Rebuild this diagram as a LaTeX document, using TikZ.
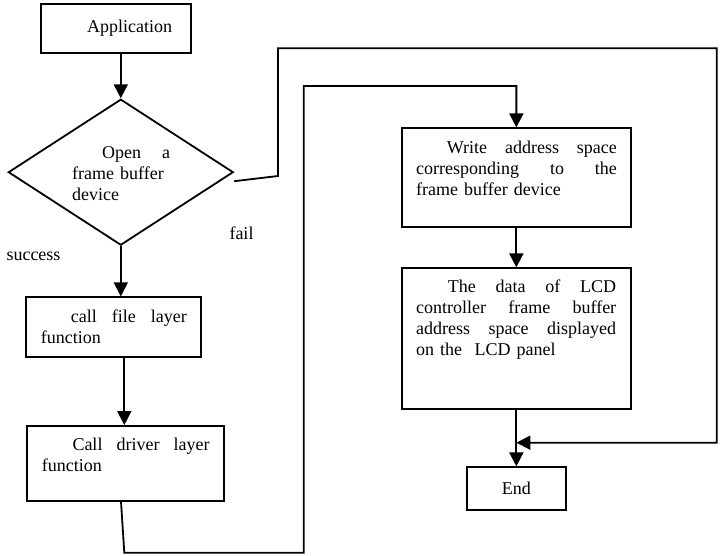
\documentclass[tikz,border=0pt]{standalone}
\usepackage{fontspec}
\setmainfont{Liberation Serif}
\usetikzlibrary{arrows.meta,shapes.geometric}
\newcommand{\lbl}{\fontsize{18}{21}\selectfont}
\newcommand{\jl}[2]{\leavevmode\hbox to #1{#2}}
\begin{document}
\begin{tikzpicture}[x=1pt,y=-1pt,
  box/.style={draw, line width=1.8pt, inner sep=0pt, font=\lbl},
  decision/.style={draw, diamond, line width=1.8pt, inner sep=0pt},
  txt/.style={inner sep=0pt, anchor=base west, align=left, font=\lbl},
  lab/.style={inner sep=0pt, font=\lbl},
  conn/.style={line width=1.8pt},
  arr/.style={conn, -{Triangle[width=14pt,length=14pt]}}]
\useasboundingbox (0,0) rectangle (720,556);

% boxes
\node[box, minimum width=150pt, minimum height=48.4pt] (app) at (115.7,28.5) {\hspace*{28pt}Application};
\node[decision, minimum width=225pt, minimum height=146pt] (dia) at (120.8,172.2) {};
\node[txt, text width=98pt] (diat) at (72,158.5) {\hspace*{30pt}\jl{68pt}{Open\hfill a}\\frame buffer\\device};
\node[box, minimum width=175.3pt, minimum height=59.4pt] (file) at (113.65,327) {};
\node[txt, text width=146pt] (filet) at (40.7,322.2) {\hspace*{30pt}\jl{116pt}{call\hfill file\hfill layer}\\function};
\node[box, minimum width=196.7pt, minimum height=74.7pt] (driver) at (125.65,463.35) {};
\node[txt, text width=167.6pt] (drivert) at (41.7,450.5) {\hspace*{30.6pt}\jl{137pt}{Call\hfill driver\hfill layer}\\function};
\node[box, minimum width=229.3pt, minimum height=99pt] (write) at (516.35,177.8) {};
\node[txt, text width=200.7pt] (writet) at (416,153.2) {\hspace*{30.7pt}\jl{170pt}{Write\hfill address\hfill space}\\\jl{200.7pt}{corresponding\hfill to\hfill the}\\frame buffer device};
\node[box, minimum width=229.3pt, minimum height=141pt] (data) at (516.35,338.8) {};
\node[txt, text width=200pt] (datat) at (416,292.8) {\hspace*{31.7pt}\jl{168.3pt}{The\hfill data\hfill of\hfill LCD}\\\jl{200pt}{controller\hfill frame\hfill buffer}\\\jl{200pt}{address\hfill space\hfill displayed}\\on the\hspace{12.5pt}LCD panel};
\node[box, minimum width=98.7pt, minimum height=42.7pt] (end) at (516.35,488.65) {End};

% labels
\node[lab] (success) at (33.5,256) {success};
\node[lab] (fail) at (241.5,233) {fail};

% coordinates
\coordinate (f1) at (278,176);
\coordinate (f2) at (278,48.3);
\coordinate (f3) at (716.7,48.3);
\coordinate (f4) at (716.7,442.7);
\coordinate (join) at (516.35,442.7);
\coordinate (l1) at (124.3,552.7);
\coordinate (l2) at (303.7,552.7);
\coordinate (l3) at (303.7,86);
\coordinate (l4) at (516.35,86);

% connectors
\draw[arr] (app.south -| dia.north) -- (dia.north);
\draw[arr] (dia.south) -- (dia.south |- file.north);
\draw[arr] ([xshift=10.65pt]file.south) -- ([xshift=10.65pt]file.south |- driver.north);
\draw[arr] ([xshift=-4.65pt]driver.south) -- (l1) -- (l2) -- (l3) -- (l4) -- (write.north);
\draw[arr] (write.south) -- (data.north);
\draw[arr] (data.south) -- (end.north);
\draw[arr] ([yshift=-9pt]dia.east) -- (f1) -- (f2) -- (f3) -- (f4) -- (join);
\end{tikzpicture}
\end{document}
